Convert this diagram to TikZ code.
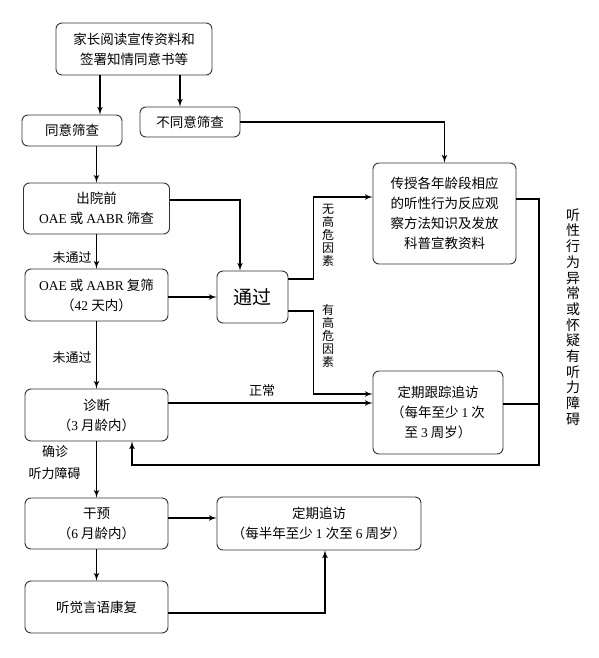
\documentclass[tikz,border=0pt]{standalone}
\usepackage{fontspec}
\setmainfont{Noto Sans CJK SC}
\newfontfamily\lat{Liberation Serif}
\usetikzlibrary{arrows,calc}

\begin{document}
\begin{tikzpicture}[x=1pt,y=-1pt,->,>=latex',line width=1.6pt,
    box/.style={draw=black!80,line width=0.9pt,rounded corners=6pt,align=center,inner sep=0pt,
      font=\fontsize{13.5}{20}\selectfont},
    tag/.style={inner sep=0pt,font=\fontsize{13}{16}\selectfont},
    vtag/.style={inner sep=0pt,align=center,font=\fontsize{12}{13}\selectfont}]

  \useasboundingbox (0,0) rectangle (599,658);

  \node[box,minimum width=156pt,minimum height=52pt] (parent) at (134,49) {家长阅读宣传资料和\\签署知情同意书等};
  \node[box,minimum width=100pt,minimum height=31pt] (agree) at (72,130.5) {同意筛查};
  \node[box,minimum width=100pt,minimum height=30pt] (disagree) at (190,122) {不同意筛查};
  \node[box,minimum width=146pt,minimum height=51pt] (predis) at (96.5,208.5) {出院前\\{\lat OAE} 或 {\lat AABR} 筛查};
  \node[box,minimum width=143pt,minimum height=52pt] (recheck) at (96.5,295) {{\lat OAE} 或 {\lat AABR} 复筛\\（{\lat 42} 天内）};
  \node[box,minimum width=71pt,minimum height=52pt,font=\fontsize{19}{22}\selectfont] (pass) at (252.5,297) {通过};
  \node[box,minimum width=143pt,minimum height=101pt] (educate) at (444.5,213.5) {传授各年龄段相应\\的听性行为反应观\\察方法知识及发放\\科普宣教资料};
  \node[box,minimum width=143pt,minimum height=52pt] (diag) at (96.5,415) {诊断\\（{\lat 3} 月龄内）};
  \node[box,minimum width=130pt,minimum height=83pt] (follow) at (438,412.5) {定期跟踪追访\\（每年至少 {\lat 1} 次\\至 {\lat 3} 周岁）};
  \node[box,minimum width=143pt,minimum height=51pt] (interv) at (96.5,523.5) {干预\\（{\lat 6} 月龄内）};
  \node[box,minimum width=204pt,minimum height=53pt] (visit) at (319,523.5) {定期追访\\（每半年至少 {\lat 1} 次至 {\lat 6} 周岁）};
  \node[box,minimum width=143pt,minimum height=52pt] (rehab) at (96.5,607) {听觉言语康复};
  \coordinate (back) at (539,465);

  % labels
  \node[tag] (fail1) at (72,258) {未通过};
  \node[tag] (fail2) at (72,358) {未通过};
  \node[tag] (normal) at (262,391) {正常};
  \node[tag] (confirm) at (55,452) {确诊};
  \node[tag] (loss) at (54.5,474) {听力障碍};
  \node[vtag] (norisk) at (328,235) {无\\高\\危\\因\\素};
  \node[vtag] (risk) at (328,335.5) {有\\高\\危\\因\\素};
  \node[vtag,font=\fontsize{14}{15.7}\selectfont] (abnormal) at (573,317)
    {听\\性\\行\\为\\异\\常\\或\\怀\\疑\\有\\听\\力\\障\\碍};

  % connectors
  \draw ([xshift=-34pt]parent.south) -- ([xshift=-34pt]parent.south |- agree.north);
  \draw ([xshift=-10pt]disagree.north |- parent.south) -- ([xshift=-10pt]disagree.north);
  \draw (agree.south -| predis.north) -- (predis.north);
  \draw (disagree.east) -| (educate.north);
  \draw ([yshift=8.5pt]predis.east) -| ([xshift=-12.5pt]pass.north);
  \draw (predis.south) -- (recheck.north);
  \draw (recheck.east |- pass.west) -- (pass.west);
  \draw ([yshift=18pt]pass.east) -- ++(25,0) |- ([yshift=16.5pt]educate.west);
  \draw ([yshift=-14pt]pass.east) -- ++(25,0) |- ([yshift=18.5pt]follow.west);
  \draw ([yshift=12pt]diag.east) -- ([yshift=12pt]diag.east -| follow.west);
  \draw (recheck.south) -- (diag.north);
  \draw ([yshift=14.5pt]educate.east) -| (back) -| ([xshift=35.5pt]diag.south);
  \draw[-] ([yshift=8.5pt]follow.east) -- ([yshift=8.5pt]follow.east -| back);
  \draw (diag.south) -- (interv.north);
  \draw ([yshift=5.5pt]interv.east) -- ([yshift=5.5pt]interv.east -| visit.west);
  \draw (interv.south) -- (rehab.north);
  \draw ([yshift=-6pt]rehab.east) -| ([xshift=6pt]visit.south);

\end{tikzpicture}
\end{document}
